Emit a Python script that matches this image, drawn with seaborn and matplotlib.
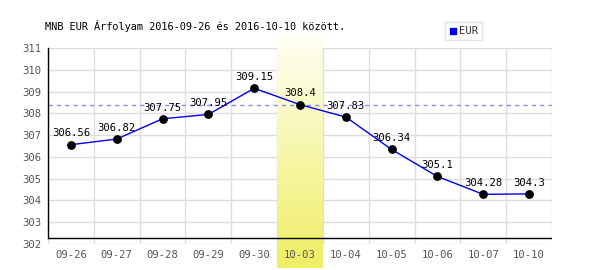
import numpy as np
import pandas as pd
import matplotlib
matplotlib.use("Agg")
import matplotlib.pyplot as plt
import seaborn as sns
from matplotlib.lines import Line2D

dates = ["09-26", "09-27", "09-28", "09-29", "09-30", "10-03", "10-04", "10-05", "10-06", "10-07", "10-10"]
rates = [306.56, 306.82, 307.75, 307.95, 309.15, 308.4, 307.83, 306.34, 305.1, 304.28, 304.3]
labels = ["306.56", "306.82", "307.75", "307.95", "309.15", "308.4", "307.83", "306.34", "305.1", "304.28", "304.3"]
highlight = "10-03"
ref_value = 308.4
yticks = [302, 303, 304, 305, 306, 307, 308, 309, 310, 311]
title = "MNB EUR Árfolyam 2016-09-26 és 2016-10-10 között."

sns.set_style("white")
plt.rcParams["font.family"] = ["DejaVu Sans Mono", "DejaVu Sans"]

df = pd.DataFrame({"date": dates, "rate": rates})
df["x"] = np.arange(len(dates))

fig = plt.figure(figsize=(6, 2.7), dpi=100)
ax = fig.add_axes([0.08, 0.0963, 0.84, 0.7259])
ax.set_axisbelow(False)

# grid
for v in yticks:
    ax.axhline(v, color="#dddddd", lw=1, zorder=0)
for i in range(len(dates) + 1):
    ax.axvline(i - 0.5, color="#dddddd", lw=1, zorder=0)

# highlight band with gradient
hi = dates.index(highlight)
grad = np.linspace(0, 1, 256).reshape(-1, 1)
top = np.array([255, 255, 245]) / 255
bot = np.array([240, 238, 100]) / 255
img = top[None, None, :] * (1 - grad[:, :, None]) + bot[None, None, :] * grad[:, :, None]
ax.imshow(img, extent=[hi - 0.5, hi + 0.5, 300.9, 311.6], aspect="auto",
          origin="upper", clip_on=False, zorder=1)
ax.set_xlim(-0.5, len(dates) - 0.5)
ax.set_ylim(302, 311)

ax.axhline(ref_value, color="#8888ff", lw=1, ls=(0, (3, 3)), zorder=2)

sns.lineplot(data=df, x="x", y="rate", ax=ax, color="#0000ee", lw=1, zorder=3)
sns.scatterplot(data=df, x="x", y="rate", ax=ax, color="black", s=40, zorder=4,
                edgecolor="black", linewidth=0)

for xi, yi, lab in zip(df["x"], df["rate"], labels):
    ax.annotate(lab, (xi, yi), xytext=(0, 4.5), textcoords="offset points",
                ha="center", va="bottom", fontsize=7.6, color="black", zorder=5)

# axis lines
for s in ["top", "right", "bottom"]:
    ax.spines[s].set_visible(False)
ax.spines["left"].set_color("black")
ax.spines["left"].set_linewidth(1)
ax.spines["left"].set_bounds(302.275, 311)
ax.axhline(302.275, color="black", lw=1, zorder=3)

ax.set_xticks(df["x"])
ax.set_xticklabels(dates)
ax.set_yticks(yticks)
ax.set_yticklabels([str(v) for v in yticks])
ax.tick_params(axis="both", length=0, colors="#555555", labelsize=7.6)
ax.tick_params(axis="x", pad=4)
ax.tick_params(axis="y", pad=5)
ax.set_xlabel("")
ax.set_ylabel("")

fig.text(45 / 600, 1 - 26 / 270, title, fontsize=7.4, color="black", va="center", ha="left")

handle = Line2D([], [], marker="s", color="#0000ee", ls="", markersize=5)
leg = fig.legend([handle], ["EUR"], loc="upper left", bbox_to_anchor=(445 / 600, 1 - 22 / 270),
                 frameon=True, fontsize=7.6, handletextpad=0.1, borderpad=0.4,
                 handlelength=0.8, fancybox=False, edgecolor="#dddddd", borderaxespad=0)
for t in leg.get_texts():
    t.set_color("#333333")

fig.savefig("out.png", dpi=100)
